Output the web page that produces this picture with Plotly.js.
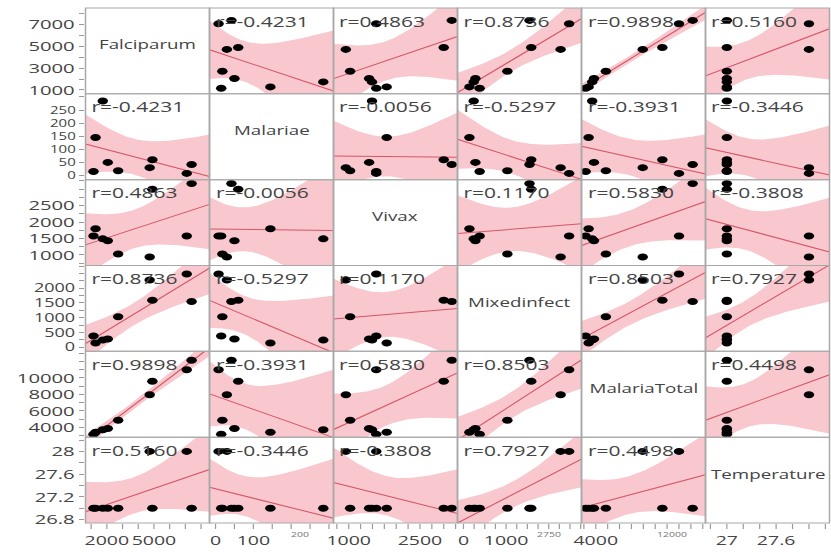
<!DOCTYPE html>
<html><head><meta charset="utf-8">
<script src="https://cdn.plot.ly/plotly-3.0.1.min.js"></script>
<style>
html,body{margin:0;padding:0;overflow:hidden;background:#fff;}
#wrap{width:831px;height:554px;overflow:hidden;}
#chart{width:554px;height:554px;transform:scaleX(1.5);transform-origin:0 0;}
</style></head><body><div id="wrap"><div id="chart"></div></div>
<script>
// ---- data (9 observations) ----
const varNames = ['Falciparum','Malariae','Vivax','Mixedinfect','MalariaTotal','Temperature'];
const falciparum   = [7400, 7090, 4900, 4730, 2720, 2060, 1740, 1280, 1150];
const malariae     = [42, 8, 60, 30, 18, 50, 285, 145, 15];
const vivax        = [3170, 1580, 3000, 940, 1030, 1430, 1490, 1800, 1580];
const mixedinfect  = [1550, 2480, 1590, 2280, 1030, 280, 240, 140, 380];
const malariaTotal = [12150, 11000, 9600, 7950, 4850, 3850, 3700, 3400, 3150];
const temperature  = [27, 28, 27, 28, 27, 27, 27, 27, 27];

// correlation labels as printed in each cell (row = y variable, col = x variable)
const corrText = [
  [null, '-0.4231', '0.4863', '0.8736', '0.9898', '0.5160'],
  ['-0.4231', null, '-0.0056', '-0.5297', '-0.3931', '-0.3446'],
  ['0.4863', '-0.0056', null, '0.1170', '0.5830', '-0.3808'],
  ['0.8736', '-0.5297', '0.1170', null, '0.8503', '0.7927'],
  ['0.9898', '-0.3931', '0.5830', '0.8503', null, '0.4498'],
  ['0.5160', '-0.3446', '-0.3808', '0.7927', '0.4498', null]
];

// tick positions and labels
const tickVals = [
  [1000,2000,3000,4000,5000,6000,7000,8000],
  [0,50,100,150,200,250,300],
  [750,1000,1250,1500,1750,2000,2250,2500,2750,3000,3250],
  [0,250,500,750,1000,1250,1500,1750,2000,2250,2500,2750],
  [3000,4000,5000,6000,7000,8000,9000,10000,11000,12000,13000],
  [26.8,27,27.2,27.4,27.6,27.8,28,28.2]
];
const yLabeled = [[1000,3000,5000,7000],[0,50,100,150,200,250],[1000,1500,2000,2500],[0,500,1000,1500,2000],[4000,6000,8000,10000],[26.8,27.2,27.6,28]];
const xLabeled = [[2000,5000],[0,100],[1000,2500],[0,1000],[4000],[27,27.6]];
const tinyLabels = [{col:1, value:225, text:'200'}, {col:3, value:2015, text:'2750'}, {col:4, value:10450, text:'12000'}];

const ranges = [[640,8540],[-16,312],[680,3290],[-140,2770],[2800,13230],[26.74,28.25]];

// ---- drawing ----
const vars = [falciparum, malariae, vivax, mixedinfect, malariaTotal, temperature];
const N = 6;
const FONT = '"Open Sans", "DejaVu Sans", sans-serif';
const BAND = '#f8c8ce';
const LINE = '#d65666';
const TXT = '#444';
const tCrit = 2.3646; // t(0.975, 7)
const yTickSize = [13.5, 10, 13.5, 12, 13.5, 13.5];

function axName(p, k){ return k===0 ? p : p + (k+1); }

function fit(xs, ys){
  const n = xs.length;
  const mx = xs.reduce((a,b)=>a+b,0)/n, my = ys.reduce((a,b)=>a+b,0)/n;
  let sxx=0, sxy=0;
  for(let i=0;i<n;i++){ sxx += (xs[i]-mx)**2; sxy += (xs[i]-mx)*(ys[i]-my); }
  const b = sxy/sxx, a = my - b*mx;
  let sse=0;
  for(let i=0;i<n;i++){ sse += (ys[i]-a-b*xs[i])**2; }
  const s = Math.sqrt(sse/(n-2));
  return {a,b,s,mx,sxx,n};
}

const traces = [];
for(let i=0;i<N;i++){
  for(let j=0;j<N;j++){
    if(i===j) continue;
    const xs = vars[j], ys = vars[i];
    const xa = axName('x', j), ya = axName('y', i);
    const f = fit(xs, ys);
    const [x0, x1] = ranges[j];
    const gx = [], up = [], lo = [], ln = [];
    const M = 60;
    for(let k=0;k<=M;k++){
      const x = x0 + (x1-x0)*k/M;
      const yh = f.a + f.b*x;
      const se = f.s*Math.sqrt(1/f.n + (x-f.mx)**2/f.sxx);
      gx.push(x); up.push(yh + tCrit*se); lo.push(yh - tCrit*se); ln.push(yh);
    }
    traces.push({x: gx.concat(gx.slice().reverse()), y: up.concat(lo.slice().reverse()),
      xaxis: xa, yaxis: ya, type:'scatter', mode:'lines', fill:'toself',
      fillcolor: BAND, line:{width:0}, hoverinfo:'skip', showlegend:false});
    traces.push({x: gx, y: ln, xaxis: xa, yaxis: ya, type:'scatter', mode:'lines',
      line:{color: LINE, width:1}, hoverinfo:'skip', showlegend:false});
    traces.push({x: xs, y: ys, xaxis: xa, yaxis: ya, type:'scatter', mode:'markers',
      marker:{color:'#000', size:7}, cliponaxis:true, showlegend:false});
  }
}

function fmt(v){ return String(Math.round(v*10)/10); }
function labelsFor(vals, labeled){
  return vals.map(v => labeled.some(l => Math.abs(l-v) < 1e-9) ? fmt(v) : '');
}

const layout = {
  width: 554, height: 554,
  margin: {l: 57.33, r: 0.67, t: 8, b: 31},
  paper_bgcolor: '#fff', plot_bgcolor: '#fff',
  font: {family: FONT, color: TXT},
  showlegend: false,
  shapes: [], annotations: []
};

for(let k=0;k<N;k++){
  layout[k===0?'xaxis':'xaxis'+(k+1)] = {
    domain: [k/N, (k+1)/N], range: ranges[k], anchor: 'y6',
    tickmode: 'array', tickvals: tickVals[k], ticktext: labelsFor(tickVals[k], xLabeled[k]),
    ticks: 'outside', ticklen: 5, tickcolor: '#999', tickwidth: 0.8, tickangle: 0,
    showgrid: false, zeroline: false, showline: false,
    tickfont: {family: FONT, size: 13, color: TXT}, fixedrange: true
  };
  layout[k===0?'yaxis':'yaxis'+(k+1)] = {
    domain: [1-(k+1)/N, 1-k/N], range: ranges[k], anchor: 'x',
    tickmode: 'array', tickvals: tickVals[k], ticktext: labelsFor(tickVals[k], yLabeled[k]),
    ticks: 'outside', ticklen: 3.5, tickcolor: '#999', tickwidth: 1,
    showgrid: false, zeroline: false, showline: false,
    tickfont: {family: FONT, size: yTickSize[k], color: TXT}, fixedrange: true
  };
}

const PW = 496, PH = 515;
for(let i=0;i<N;i++){
  for(let j=0;j<N;j++){
    layout.shapes.push({type:'rect', xref:'paper', yref:'paper',
      x0: j/N, x1: (j+1)/N, y0: 1-(i+1)/N, y1: 1-i/N,
      line:{color:'#a8a8a8', width:1}, fillcolor:'rgba(0,0,0,0)', layer:'above'});
    if(i===j){
      layout.annotations.push({xref:'paper', yref:'paper', x:(j+0.5)/N, y:1-(i+0.5)/N + 6/PH,
        xanchor:'center', yanchor:'middle', showarrow:false, text: varNames[i],
        font:{family:FONT, size:12.5, color:TXT}});
    } else {
      layout.annotations.push({xref:'paper', yref:'paper', x:j/N + 2/PW, y:1-i/N - 13/PH,
        xanchor:'left', yanchor:'middle', showarrow:false, text: 'r=' + corrText[i][j],
        font:{family:FONT, size:14, color:TXT}});
    }
  }
}
tinyLabels.forEach(t => {
  layout.annotations.push({xref: axName('x', t.col), yref:'paper', x: t.value, y: -11/PH,
    xanchor:'center', yanchor:'middle', showarrow:false, text: t.text,
    font:{family:FONT, size:7, color:'#777'}});
});

Plotly.newPlot('chart', traces, layout, {displayModeBar:false, staticPlot:true});
</script>
</body></html>
